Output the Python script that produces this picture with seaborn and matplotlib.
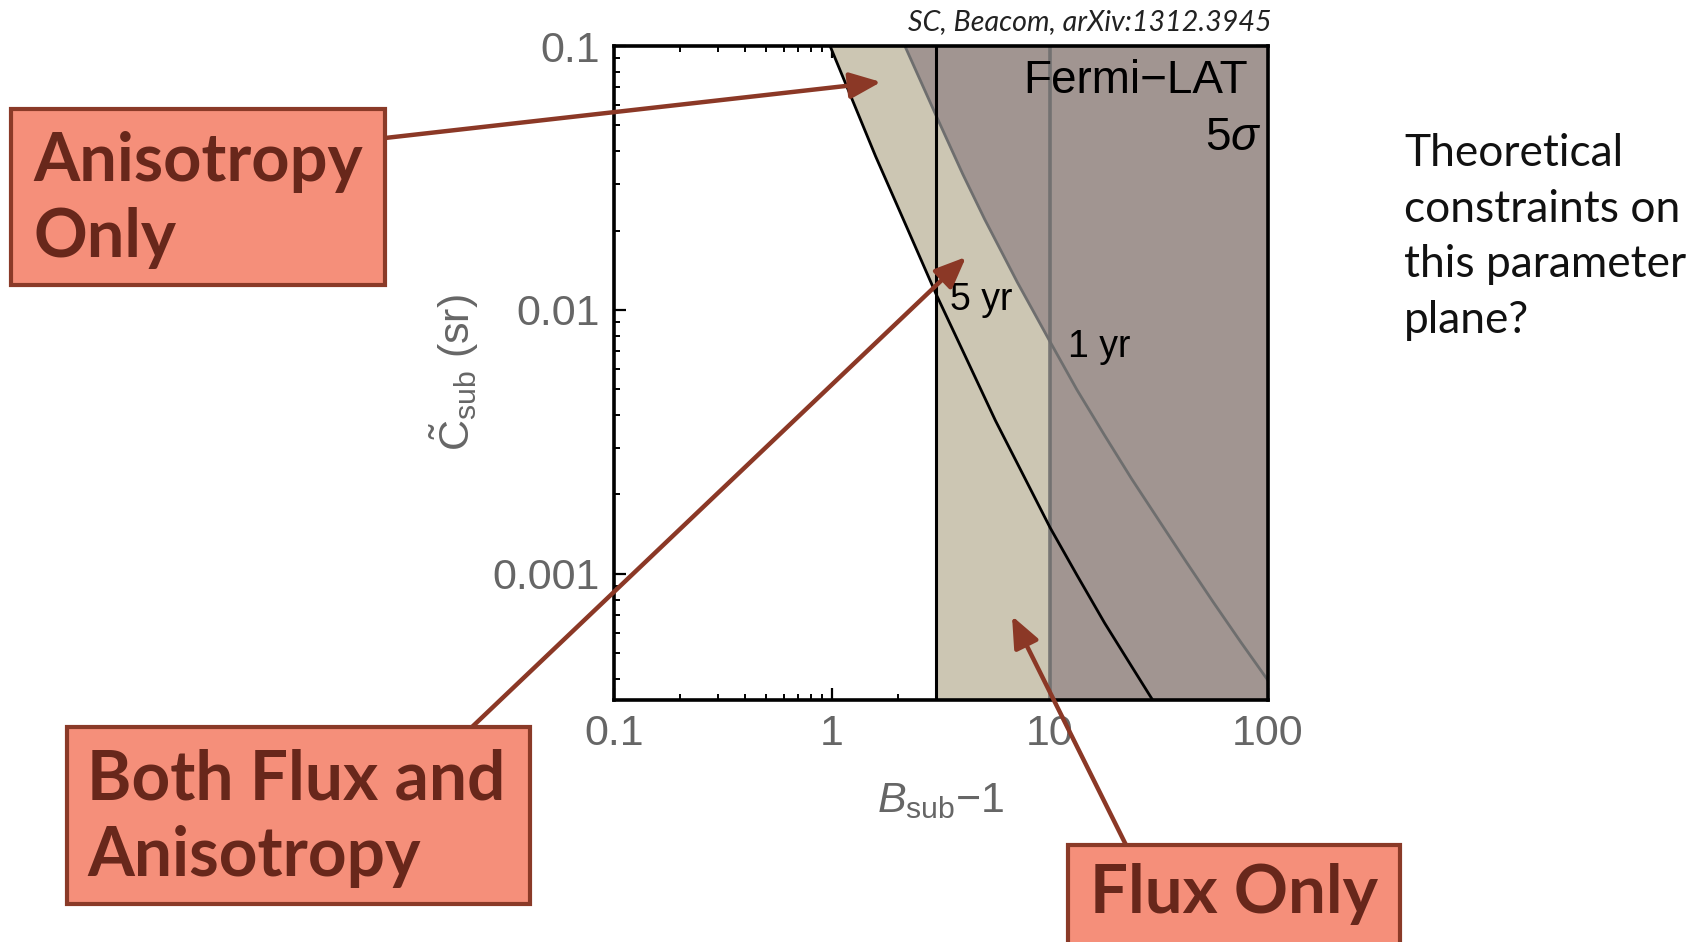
import numpy as np
import pandas as pd
import matplotlib
matplotlib.use("Agg")
import matplotlib.pyplot as plt
import seaborn as sns
from matplotlib.patches import Rectangle, FancyArrowPatch
from matplotlib.ticker import FixedLocator, FixedFormatter, LogLocator, NullFormatter

# ---------------- data ----------------
# 5-year anisotropy sensitivity curve (black)
aniso5_b = [0.891, 0.98, 1.26, 1.585, 2.24, 3.0, 3.98, 5.62, 7.5, 10.0,
            13.3, 17.8, 23.7, 31.6, 39.8]
aniso5_c = [0.121, 0.100, 0.0605, 0.0382, 0.01995, 0.0115, 7.0e-3, 3.81e-3, 2.39e-3, 1.50e-3,
            9.89e-4, 6.52e-4, 4.46e-4, 3.05e-4, 2.27e-4]
# 1-year anisotropy sensitivity curve (gray)
aniso1_b = [2.0, 2.16, 3.0, 3.98, 5.01, 7.08, 10.0, 13.3, 17.8, 23.7, 32.0, 42.2, 56.2, 75.0, 100.0]
aniso1_c = [0.116, 0.100, 0.0546, 0.0327, 0.0221, 0.01274, 7.59e-3, 4.98e-3, 3.35e-3, 2.29e-3,
            1.57e-3, 1.11e-3, 7.8e-4, 5.52e-4, 3.95e-4]
# flux sensitivity limits (vertical lines)
flux5 = 3.0
flux1 = 10.0

xlim = (0.1, 100.0)
ylim = (3.33e-4, 0.1)
xticks = [0.1, 1, 10, 100]
xtick_labels = ["0.1", "1", "10", "100"]
yticks = [0.001, 0.01, 0.1]
ytick_labels = ["0.001", "0.01", "0.1"]

# ---------------- style ----------------
sns.set_theme(style="ticks")
plt.rcParams["font.family"] = ["Liberation Sans", "DejaVu Sans"]
plt.rcParams["mathtext.fontset"] = "custom"
plt.rcParams["mathtext.rm"] = "Liberation Sans"
plt.rcParams["mathtext.it"] = "Liberation Sans:italic"
plt.rcParams["mathtext.bf"] = "Liberation Sans:bold"

W, H = 1702, 942


def fp(x, y):
    return (x / W, 1 - y / H)


fig = plt.figure(figsize=(W / 100, H / 100), dpi=100)
fig.patch.set_facecolor("white")
ax = fig.add_axes([614 / W, 1 - 700 / H, (1268 - 614) / W, (700 - 46) / H])
ax.set_xscale("log")
ax.set_yscale("log")
ax.set_facecolor("white")

beige = "#CCC6B3"
dark = "#A19591"
grayline = "#6E6E6E"

# filled excluded regions (5 yr: beige, 1 yr: darker)
lo_y, hi_y, hi_x = ylim[0] / 3, ylim[1] * 3, xlim[1] * 3
b5 = np.array(aniso5_b); c5 = np.array(aniso5_c)
m5 = b5 <= flux5
poly5_x = list(b5[m5]) + [flux5, hi_x, hi_x, b5[0]]
poly5_y = list(c5[m5]) + [lo_y, lo_y, hi_y, hi_y]
ax.fill(poly5_x, poly5_y, color=beige, lw=0, zorder=1)

b1 = np.array(aniso1_b); c1 = np.array(aniso1_c)
m1 = b1 <= flux1
poly1_x = list(b1[m1]) + [flux1, hi_x, hi_x, b1[0]]
poly1_y = list(c1[m1]) + [lo_y, lo_y, hi_y, hi_y]
ax.fill(poly1_x, poly1_y, color=dark, lw=0, zorder=1.1)

# lines
ax.axvline(flux1, color=grayline, lw=2.6, zorder=2, alpha=0.9)
df1 = pd.DataFrame({"B": aniso1_b, "C": aniso1_c})
sns.lineplot(data=df1, x="B", y="C", ax=ax, color=grayline, lw=2.0,
             sort=False, estimator=None, zorder=2.1)
ax.axvline(flux5, color="black", lw=2.2, zorder=2.2)
df5 = pd.DataFrame({"B": aniso5_b, "C": aniso5_c})
sns.lineplot(data=df5, x="B", y="C", ax=ax, color="black", lw=2.0,
             sort=False, estimator=None, zorder=2.3)

ax.set_xlim(*xlim)
ax.set_ylim(*ylim)

ax.xaxis.set_major_locator(FixedLocator(xticks))
ax.xaxis.set_major_formatter(FixedFormatter(xtick_labels))
ax.yaxis.set_major_locator(FixedLocator(yticks))
ax.yaxis.set_major_formatter(FixedFormatter(ytick_labels))
ax.xaxis.set_minor_locator(LogLocator(base=10, subs=np.arange(2, 10)))
ax.yaxis.set_minor_locator(LogLocator(base=10, subs=np.arange(2, 10)))
ax.xaxis.set_minor_formatter(NullFormatter())
ax.yaxis.set_minor_formatter(NullFormatter())

lab_col = "#666666"
ax.tick_params(which="both", direction="in", top=True, right=True,
               color="black", labelcolor=lab_col, labelsize=31)
ax.tick_params(which="major", length=8.5, width=1.6)
ax.tick_params(which="minor", length=4.5, width=1.4)
ax.tick_params(axis="x", pad=10)
ax.tick_params(axis="y", pad=10)
for s in ax.spines.values():
    s.set_color("black")
    s.set_linewidth(2.6)
    s.set_zorder(3)

ax.set_xlabel("$B_{\\mathrm{sub}}$\u22121", fontsize=31, color=lab_col)
ax.xaxis.label.set_va("baseline")
ax.xaxis.set_label_coords(0.5, -(812 - 700) / 654)
ax.set_ylabel("$\\tilde{\\mathrm{C}}_{\\mathrm{sub}}$ (sr)", fontsize=31, color=lab_col)
ax.yaxis.label.set_va("baseline")
ax.yaxis.set_label_coords((470 - 614) / 654, 0.5)

# in-plot texts
fig.text(*fp(1248, 93), "Fermi\u2212LAT", ha="right", va="baseline", fontsize=33, color="black")
fig.text(*fp(1262, 150), "5$\\sigma$", ha="right", va="baseline", fontsize=33, color="black")
fig.text(*fp(950, 310), "5 yr", ha="left", va="baseline", fontsize=27, color="black")
fig.text(*fp(1068, 357), "1 yr", ha="left", va="baseline", fontsize=27, color="black")

renderer = fig.canvas.get_renderer()


def fitted_lines(lines, x, baselines, target_w, ref_idx, ha="left", **kw):
    texts = [fig.text(*fp(x, b), s, va="baseline", ha=ha, **kw)
             for s, b in zip(lines, baselines)]
    w = texts[ref_idx].get_window_extent(renderer).width
    k = target_w / w
    for t in texts:
        t.set_fontsize(t.get_fontsize() * k)
    return texts


# citation
fitted_lines(["SC, Beacom, arXiv:1312.3945"], 1272, [30], 363, 0, ha="right",
             fontsize=20, family="Lato", style="italic", color="#222222", zorder=6)

# side question
fitted_lines(["Theoretical", "constraints on", "this parameter", "plane?"],
             1404, [166, 222, 277, 333], 282, 2,
             fontsize=32, family="Lato", color="#111111")

# annotation boxes
box_fc = "#F58F7A"
box_ec = "#8A3A28"
txt_c = "#68271B"
arrow_c = "#8B3826"


def add_box(x0, y0, x1, y1):
    r = Rectangle(fp(x0, y1), (x1 - x0) / W, (y1 - y0) / H, transform=fig.transFigure,
                  facecolor=box_fc, edgecolor=box_ec, lw=3, zorder=7)
    fig.add_artist(r)


def add_arrow(x0, y0, x1, y1):
    a = FancyArrowPatch(fp(x0, y0), fp(x1, y1), transform=fig.transFigure,
                        arrowstyle="-|>,head_length=19,head_width=8", mutation_scale=1,
                        color=arrow_c, lw=3.2, shrinkA=0, shrinkB=0, zorder=6)
    fig.add_artist(a)


add_arrow(385, 138, 881, 82)
add_arrow(472, 727, 966, 257)
add_arrow(1126, 845, 1012, 616)

add_box(11, 109, 385, 285)
fitted_lines(["Anisotropy", "Only"], 33, [181, 257], 329, 0,
             fontsize=46, family="Lato", weight="bold", color=txt_c, zorder=8)

add_box(67, 727, 530, 904)
fitted_lines(["Both Flux and", "Anisotropy"], 87, [800, 876], 418, 0,
             fontsize=46, family="Lato", weight="bold", color=txt_c, zorder=8)

add_box(1068, 845, 1400, 960)
fitted_lines(["Flux Only"], 1090, [913], 288, 0,
             fontsize=46, family="Lato", weight="bold", color=txt_c, zorder=8)

fig.savefig("out.png", dpi=100)
